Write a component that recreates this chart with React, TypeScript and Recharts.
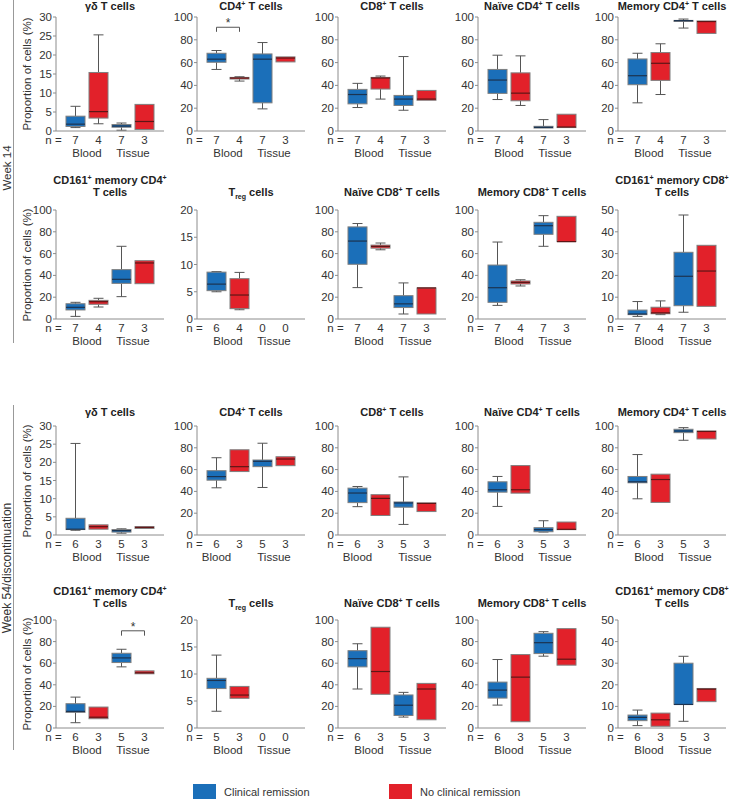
import React from 'react';
import { ComposedChart, Bar, XAxis, YAxis, ReferenceLine } from 'recharts';

// five-number summaries: [min, q1, median, q3, max]; null = no samples
type Box = number[] | null;

const FONT = '"Liberation Sans", Arial, Helvetica, sans-serif';
const BLUE = '#1b6fb9';
const RED = '#e2212a';
const AXIS = '#8c8c8c';
const INK = '#333333';

const CATEGORIES = ['Blood-CR', 'Blood-NCR', 'Tissue-CR', 'Tissue-NCR'];
const GROUPS = ['Blood', 'Blood', 'Tissue', 'Tissue'];
const REMISSION = [true, false, true, false];

const N_W14 = [7, 4, 7, 3];
const N_W14_TREG = [6, 4, 0, 0];
const N_W54 = [6, 3, 5, 3];
const N_W54_TREG = [5, 3, 0, 0];

const TICKS_30 = [0, 5, 10, 15, 20, 25, 30];
const TICKS_100 = [0, 20, 40, 60, 80, 100];
const TICKS_20 = [0, 5, 10, 15, 20];
const TICKS_50 = [0, 10, 20, 30, 40, 50];

const TITLES_A = ['γδ T cells', 'CD4^+ T cells', 'CD8^+ T cells', 'Naïve CD4^+ T cells', 'Memory CD4^+ T cells'];
const TITLES_B = [
  'CD161^+ memory CD4^+\nT cells',
  'T_reg cells',
  'Naïve CD8^+ T cells',
  'Memory CD8^+ T cells',
  'CD161^+ memory CD8^+\nT cells',
];

// Week 14
const w14GammaDelta: Box[] = [[0.9, 1.2, 1.8, 3.9, 6.5], [1.9, 3.4, 5.1, 15.4, 25.3], [0.2, 1.0, 1.3, 1.7, 2.1], [0.4, 0.4, 2.5, 7.0, 7.0]];
const w14Cd4: Box[] = [[54, 60.3, 63, 68.2, 70.6], [43.8, 45.6, 46.5, 47, 47.6], [19.4, 24.7, 63, 67.6, 77.6], [60.6, 60.6, 64, 65, 65]];
const w14Cd8: Box[] = [[20.6, 23.8, 32, 36.5, 41.8], [28, 36.8, 46.5, 47, 48.2], [18.2, 22.4, 28, 31.2, 65.3], [27, 27, 28, 35.6, 35.6]];
const w14NaiveCd4: Box[] = [[27.6, 33, 44.7, 54, 66.5], [22.4, 26.5, 33.2, 51, 65.9], [2.6, 2.6, 3.2, 4.1, 10], [3, 3, 3.5, 14.7, 14.7]];
const w14MemoryCd4: Box[] = [[24.7, 40.6, 48.5, 63.2, 68.2], [32, 44.4, 59.4, 68.8, 76.5], [90.3, 96.2, 96.8, 97, 98.2], [85.6, 85.6, 96, 96.5, 96.5]];
const w14Cd161Cd4: Box[] = [[2.4, 8.3, 10.7, 14, 15.3], [11, 13.5, 15.9, 17.1, 19], [20.5, 32.7, 36.4, 45.3, 66.7], [32.4, 32.4, 51.4, 53.5, 53.5]];
const w14Treg: Box[] = [[5.0, 5.2, 6.4, 8.6, 8.7], [1.7, 1.9, 4.4, 7.4, 8.55], null, null];
const w14NaiveCd8: Box[] = [[28.8, 50.2, 71.5, 84.5, 87.6], [63.5, 65, 66.6, 67.8, 69.7], [4.6, 10.5, 13.9, 21.4, 33.1], [4.6, 4.6, 28.5, 28.5, 28.5]];
const w14MemoryCd8: Box[] = [[12.5, 15.3, 28.7, 49.5, 70.6], [30.3, 32.1, 33.6, 34.9, 36], [66.7, 77.7, 85.6, 88.7, 94.8], [71, 71, 71, 94.2, 94.2]];
const w14Cd161Cd8: Box[] = [[1.2, 2, 2.3, 4.1, 8], [2, 2.4, 2.8, 5.4, 8.3], [3.1, 6.1, 19.6, 30.6, 47.7], [5.8, 5.8, 22, 33.8, 33.8]];

// Week 54 / discontinuation
const w54GammaDelta: Box[] = [[1.3, 1.5, 1.6, 4.6, 25.2], [1.6, 1.6, 2.3, 2.8, 2.8], [0.5, 0.8, 1.2, 1.5, 1.7], [1.8, 1.8, 2.1, 2.3, 2.3]];
const w54Cd4: Box[] = [[43.3, 50.3, 53.6, 59, 70.9], [58.2, 58.2, 62.7, 78.2, 78.2], [43.6, 62.7, 67.6, 68.8, 84.2], [63.6, 63.6, 69.7, 71.8, 71.8]];
const w54Cd8: Box[] = [[26, 29.7, 38.5, 43, 44.5], [17.9, 17.9, 33.6, 37, 37], [9.7, 25.5, 29.4, 30.3, 53.3], [21.5, 21.5, 29, 29.4, 29.4]];
const w54NaiveCd4: Box[] = [[26.2, 39.3, 41.5, 48.8, 53.7], [38.4, 38.4, 41.5, 63.7, 63.7], [2.7, 3, 4.9, 6.7, 13.1], [4.9, 4.9, 5.2, 11.9, 11.9]];
const w54MemoryCd4: Box[] = [[33.2, 47.9, 48.8, 53.7, 73.8], [29.9, 29.9, 50.9, 55.8, 55.8], [86.9, 93.9, 95.4, 97, 98.5], [88.1, 88.1, 95, 95.4, 95.4]];
const w54Cd161Cd4: Box[] = [[4.9, 14.5, 15.4, 22.5, 28.6], [8.6, 8.6, 10, 19.4, 19.4], [56.6, 60.6, 64.9, 69.2, 72.9], [50.2, 50.2, 51.1, 52.9, 52.9]];
const w54Treg: Box[] = [[3.1, 7.3, 8.8, 9.2, 13.5], [5.5, 5.5, 6.1, 7.7, 7.7], null, null];
const w54NaiveCd8: Box[] = [[36.1, 56.6, 64.2, 71.6, 78], [31.2, 31.2, 52.3, 93.3, 93.3], [10.1, 11.6, 21.1, 30.6, 33], [7.6, 7.6, 36.1, 41.3, 41.3]];
const w54MemoryCd8: Box[] = [[21.2, 27.7, 35.1, 42.5, 63.4], [5.8, 5.8, 47.1, 68, 68], [66.5, 68.9, 79, 87.7, 89.2], [58.2, 58.2, 63.7, 92, 92]];
const w54Cd161Cd8: Box[] = [[1.1, 3.4, 4.9, 6, 8.3], [0.8, 0.8, 3.8, 6.9, 6.9], [3.1, 10.9, 10.9, 30, 33.2], [12.2, 12.2, 18, 18.3, 18.3]];

// significance brackets (category indexes, bracket level, tip level)
interface Sig { from: number; to: number; y: number; tip: number }
const W14_CD4_SIG: Sig = { from: 0, to: 1, y: 91, tip: 87 };
const W54_CD161_CD4_SIG: Sig = { from: 2, to: 3, y: 90, tip: 85.5 };

interface PanelSpec {
  title: string;
  boxes: Box[];
  n: number[];
  ticks: number[];
  sig?: Sig;
  bloodUnderFirst?: boolean;
}

const PANELS: PanelSpec[][] = [
  [
    { title: TITLES_A[0], boxes: w14GammaDelta, n: N_W14, ticks: TICKS_30 },
    { title: TITLES_A[1], boxes: w14Cd4, n: N_W14, ticks: TICKS_100, sig: W14_CD4_SIG },
    { title: TITLES_A[2], boxes: w14Cd8, n: N_W14, ticks: TICKS_100 },
    { title: TITLES_A[3], boxes: w14NaiveCd4, n: N_W14, ticks: TICKS_100 },
    { title: TITLES_A[4], boxes: w14MemoryCd4, n: N_W14, ticks: TICKS_100 },
  ],
  [
    { title: TITLES_B[0], boxes: w14Cd161Cd4, n: N_W14, ticks: TICKS_100 },
    { title: TITLES_B[1], boxes: w14Treg, n: N_W14_TREG, ticks: TICKS_20 },
    { title: TITLES_B[2], boxes: w14NaiveCd8, n: N_W14, ticks: TICKS_100 },
    { title: TITLES_B[3], boxes: w14MemoryCd8, n: N_W14, ticks: TICKS_100 },
    { title: TITLES_B[4], boxes: w14Cd161Cd8, n: N_W14, ticks: TICKS_50 },
  ],
  [
    { title: TITLES_A[0], boxes: w54GammaDelta, n: N_W54, ticks: TICKS_30 },
    { title: TITLES_A[1], boxes: w54Cd4, n: N_W54, ticks: TICKS_100, bloodUnderFirst: true },
    { title: TITLES_A[2], boxes: w54Cd8, n: N_W54, ticks: TICKS_100, bloodUnderFirst: true },
    { title: TITLES_A[3], boxes: w54NaiveCd4, n: N_W54, ticks: TICKS_100 },
    { title: TITLES_A[4], boxes: w54MemoryCd4, n: N_W54, ticks: TICKS_100 },
  ],
  [
    { title: TITLES_B[0], boxes: w54Cd161Cd4, n: N_W54, ticks: TICKS_100, sig: W54_CD161_CD4_SIG },
    { title: TITLES_B[1], boxes: w54Treg, n: N_W54_TREG, ticks: TICKS_20 },
    { title: TITLES_B[2], boxes: w54NaiveCd8, n: N_W54, ticks: TICKS_100 },
    { title: TITLES_B[3], boxes: w54MemoryCd8, n: N_W54, ticks: TICKS_100 },
    { title: TITLES_B[4], boxes: w54Cd161Cd8, n: N_W54, ticks: TICKS_50 },
  ],
];

// layout
const COL_X = [56, 197, 338, 478, 618];
const ROWS = [
  { plotTop: 17, plotH: 114, titleY: 6 },
  { plotTop: 210, plotH: 109, titleY: 192 },
  { plotTop: 426, plotH: 109, titleY: 412 },
  { plotTop: 620, plotH: 108, titleY: 603 },
];
const PLOT_W = 108;
const Y_AXIS_W = 45;
const RIGHT_PAD = 6;
const TOP_PAD = 5;
const N_AXIS_H = 14;
const GROUP_AXIS_H = 16;
const BAR_W = 19;
const CAP_W = 10;
const FS = 11.5;

// axis ids: recharts stacks same-side axes by id, so the n axis id sorts first
const N_AXIS = 'a-n';
const GROUP_AXIS = 'b-group';

function BoxShape(props: any) {
  const { x, y, width, height, payload } = props;
  const b: Box = payload?.box;
  if (!b) return null;
  const [mn, q1, md, q3, mx] = b;
  const top = Math.min(y, y + height);
  const bottom = Math.max(y, y + height);
  const py = (v: number) => bottom - ((bottom - top) * (v - mn)) / (mx - mn);
  const idx = CATEGORIES.indexOf(payload.cat);
  const remission = REMISSION[idx];
  const cx = x + width / 2;
  return (
    <g>
      {mx > q3 && (
        <>
          <line x1={cx} x2={cx} y1={py(mx)} y2={py(q3)} stroke="#555" strokeWidth={1} />
          <line x1={cx - CAP_W / 2} x2={cx + CAP_W / 2} y1={py(mx)} y2={py(mx)} stroke="#555" strokeWidth={1} />
        </>
      )}
      {q1 > mn && (
        <>
          <line x1={cx} x2={cx} y1={py(q1)} y2={py(mn)} stroke="#555" strokeWidth={1} />
          <line x1={cx - CAP_W / 2} x2={cx + CAP_W / 2} y1={py(mn)} y2={py(mn)} stroke="#555" strokeWidth={1} />
        </>
      )}
      <rect
        x={x}
        y={py(q3)}
        width={width}
        height={Math.max(py(q1) - py(q3), 1)}
        fill={remission ? BLUE : RED}
        stroke="#7f7f7f"
        strokeWidth={1}
      />
      <line
        x1={x}
        x2={x + width}
        y1={py(md)}
        y2={py(md)}
        stroke={remission ? '#1c3350' : '#5e1616'}
        strokeWidth={1.2}
      />
    </g>
  );
}

function NTick(props: any) {
  const { x, y, payload, n } = props;
  const idx = CATEGORIES.indexOf(payload.value);
  return (
    <g>
      {idx === 0 && (
        <text x={x - 22} y={y + 13} textAnchor="middle" fontSize={FS} fill={INK}>
          n =
        </text>
      )}
      <text x={x} y={y + 13} textAnchor="middle" fontSize={FS} fill={INK}>
        {n[idx]}
      </text>
    </g>
  );
}

function GroupTick(props: any) {
  const { x, y, payload, shift } = props;
  const dx = shift && payload.value === 'Blood' ? -11.5 : 0;
  return (
    <text x={x + dx} y={y + 12} textAnchor="middle" fontSize={FS} fill={INK}>
      {payload.value}
    </text>
  );
}

function Panel({ spec, row, col }: { spec: PanelSpec; row: number; col: number }) {
  const r = ROWS[row];
  const data = CATEGORIES.map((cat, i) => ({ cat, group: GROUPS[i], box: spec.boxes[i] }));
  const yMax = spec.ticks[spec.ticks.length - 1];
  const width = Y_AXIS_W + PLOT_W + RIGHT_PAD;
  const height = TOP_PAD + r.plotH + N_AXIS_H + GROUP_AXIS_H;
  const sig = spec.sig;
  return (
    <div style={{ position: 'absolute', left: COL_X[col] - Y_AXIS_W, top: r.plotTop - TOP_PAD }}>
      <ComposedChart
        width={width}
        height={height}
        data={data}
        margin={{ top: TOP_PAD, right: RIGHT_PAD, bottom: 0, left: 0 }}
        style={{ fontFamily: FONT }}
      >
        <XAxis
          xAxisId={N_AXIS}
          dataKey="cat"
          type="category"
          interval={0}
          height={N_AXIS_H}
          padding={{ left: 8, right: 8 }}
          tickSize={0}
          tickMargin={0}
          tickLine={false}
          stroke={AXIS}
          tick={(p: any) => <NTick {...p} n={spec.n} />}
        />
        <XAxis
          xAxisId={GROUP_AXIS}
          dataKey="group"
          type="category"
          allowDuplicatedCategory={false}
          interval={0}
          height={GROUP_AXIS_H}
          padding={{ left: 8, right: 8 }}
          tickSize={0}
          tickMargin={0}
          tickLine={false}
          axisLine={false}
          tick={(p: any) => <GroupTick {...p} shift={spec.bloodUnderFirst} />}
        />
        <YAxis
          type="number"
          domain={[0, yMax]}
          ticks={spec.ticks}
          interval={0}
          width={Y_AXIS_W}
          tickSize={3}
          tickMargin={1}
          stroke={AXIS}
          tick={{ fill: INK, fontSize: FS }}
        />
        <Bar
          xAxisId={N_AXIS}
          dataKey={(d: any) => (d.box ? [d.box[0], d.box[4]] : null)}
          barSize={BAR_W}
          shape={BoxShape}
          isAnimationActive={false}
        />
        {sig && (
          <ReferenceLine
            xAxisId={N_AXIS}
            segment={[
              { x: CATEGORIES[sig.from], y: sig.y },
              { x: CATEGORIES[sig.to], y: sig.y },
            ]}
            stroke="#555"
            ifOverflow="visible"
            label={{ value: '*', position: 'top', offset: 0, fill: INK, fontSize: 12 }}
          />
        )}
        {sig && (
          <ReferenceLine
            xAxisId={N_AXIS}
            segment={[
              { x: CATEGORIES[sig.from], y: sig.y },
              { x: CATEGORIES[sig.from], y: sig.tip },
            ]}
            stroke="#555"
            ifOverflow="visible"
          />
        )}
        {sig && (
          <ReferenceLine
            xAxisId={N_AXIS}
            segment={[
              { x: CATEGORIES[sig.to], y: sig.y },
              { x: CATEGORIES[sig.to], y: sig.tip },
            ]}
            stroke="#555"
            ifOverflow="visible"
          />
        )}
      </ComposedChart>
    </div>
  );
}

function Title({ text, row, col }: { text: string; row: number; col: number }) {
  const lines = text.split('\n');
  const r = ROWS[row];
  return (
    <div
      style={{
        position: 'absolute',
        left: COL_X[col] - 20,
        width: PLOT_W + 40,
        top: r.titleY - 6 - 12 * (lines.length - 1),
        textAlign: 'center',
        fontWeight: 'bold',
        fontSize: 11,
        lineHeight: '12px',
        color: '#222',
        whiteSpace: 'nowrap',
      }}
    >
      {lines.map((line, li) => (
        <div key={li}>
          {line.split(/(\^\+|_reg)/).map((part, i) => {
            if (part === '^+')
              return (
                <span key={i} style={{ fontSize: 7, verticalAlign: 4, lineHeight: 0 }}>
                  +
                </span>
              );
            if (part === '_reg')
              return (
                <span key={i} style={{ fontSize: 7, verticalAlign: -3, lineHeight: 0 }}>
                  reg
                </span>
              );
            return <span key={i}>{part}</span>;
          })}
        </div>
      ))}
    </div>
  );
}

function Rotated({ text, cx, cy, size }: { text: string; cx: number; cy: number; size: number }) {
  return (
    <div
      style={{
        position: 'absolute',
        left: cx - 100,
        top: cy - 8,
        width: 200,
        height: 16,
        lineHeight: '16px',
        textAlign: 'center',
        fontSize: size,
        color: INK,
        transform: 'rotate(-90deg)',
        whiteSpace: 'nowrap',
      }}
    >
      {text}
    </div>
  );
}

export default function App() {
  return (
    <div
      style={{
        position: 'absolute',
        left: 0,
        top: 0,
        width: 734,
        height: 801,
        background: '#fff',
        fontFamily: FONT,
        overflow: 'hidden',
      }}
    >
      {/* side labels */}
      <div style={{ position: 'absolute', left: 13, top: 0, width: 1, height: 343, background: '#999' }} />
      <div style={{ position: 'absolute', left: 13, top: 405, width: 1, height: 345, background: '#999' }} />
      <Rotated text="Week 14" cx={7} cy={168} size={11.5} />
      <Rotated text="Week 54/discontinuation" cx={7} cy={568} size={12} />

      {PANELS.map((rowSpecs, row) =>
        rowSpecs.map((spec, col) => (
          <React.Fragment key={`${row}-${col}`}>
            <Title text={spec.title} row={row} col={col} />
            <Panel spec={spec} row={row} col={col} />
            {col === 0 && (
              <Rotated
                text="Proportion of cells (%)"
                cx={COL_X[0] - 29}
                cy={ROWS[row].plotTop + ROWS[row].plotH / 2}
                size={11.5}
              />
            )}
          </React.Fragment>
        ))
      )}

      {/* legend */}
      <div style={{ position: 'absolute', left: 193, top: 784, width: 23, height: 15, background: BLUE }} />
      <div style={{ position: 'absolute', left: 224, top: 785, fontSize: 11, lineHeight: '15px', color: INK }}>
        Clinical remission
      </div>
      <div style={{ position: 'absolute', left: 389, top: 784, width: 23, height: 15, background: RED }} />
      <div style={{ position: 'absolute', left: 420, top: 785, fontSize: 11, lineHeight: '15px', color: INK }}>
        No clinical remission
      </div>
    </div>
  );
}
